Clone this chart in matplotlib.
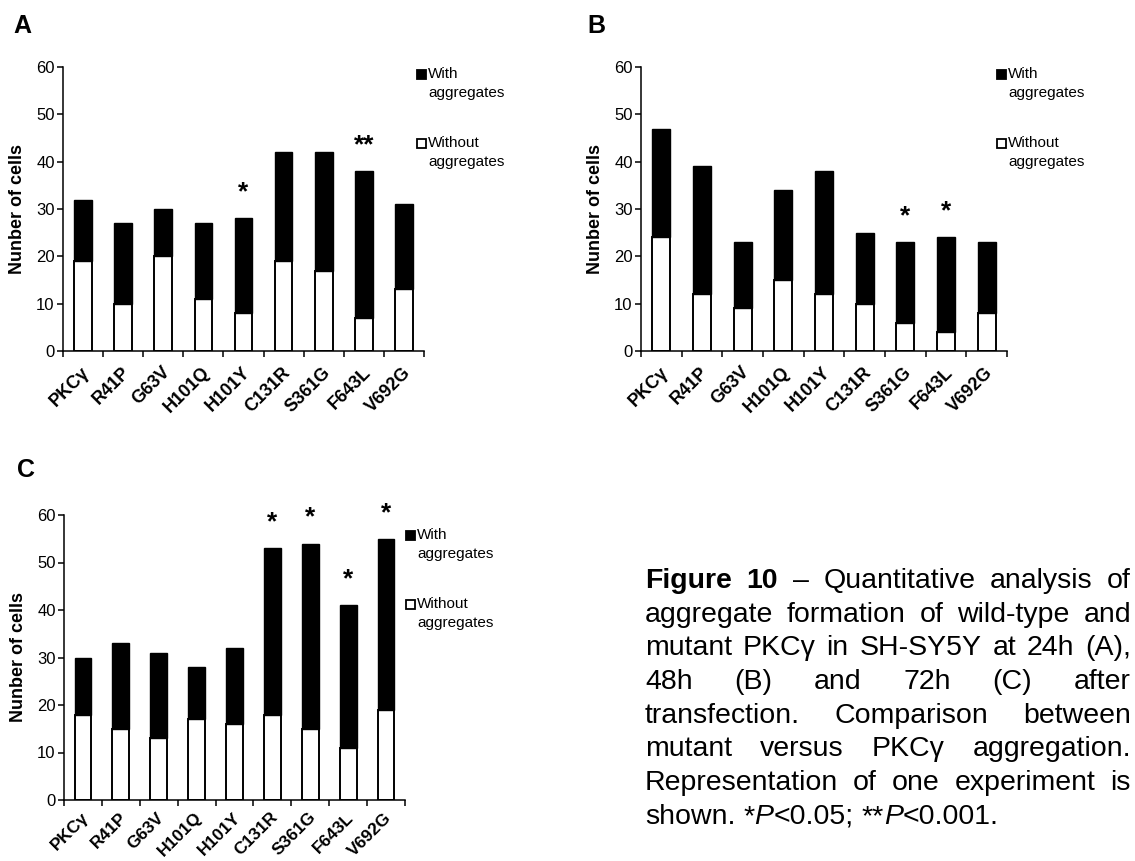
import numpy as np
import matplotlib
matplotlib.use("Agg")
import matplotlib.pyplot as plt
from matplotlib.patches import Rectangle
from matplotlib.transforms import ScaledTranslation

# ---------------- data ----------------
categories = ["PKCγ", "R41P", "G63V", "H101Q", "H101Y", "C131R", "S361G", "F643L", "V692G"]

a_without = [19, 10, 20, 11, 8, 19, 17, 7, 13]
a_with = [13, 17, 10, 16, 20, 23, 25, 31, 18]
a_sig = {"H101Y": "*", "F643L": "**"}

b_without = [24, 12, 9, 15, 12, 10, 6, 4, 8]
b_with = [23, 27, 14, 19, 26, 15, 17, 20, 15]
b_sig = {"S361G": "*", "F643L": "*"}

c_without = [18, 15, 13, 17, 16, 18, 15, 11, 19]
c_with = [12, 18, 18, 11, 16, 35, 39, 30, 36]
c_sig = {"C131R": "*", "S361G": "*", "F643L": "*", "V692G": "*"}

y_ticks = [0, 10, 20, 30, 40, 50, 60]
legend_labels = [("With", "aggregates"), ("Without", "aggregates")]
ylabel = "Nunber of cells"

# ---------------- figure ----------------
W, H = 1135, 861
plt.rcParams["font.family"] = ["Liberation Sans", "DejaVu Sans"]
fig = plt.figure(figsize=(W / 100, H / 100), dpi=100)
fig.patch.set_facecolor("white")


def fx(x):
    return x / W


def fy(y):
    return 1 - y / H


def panel(rect_px, without, with_, sig, label_x, letter, letter_pos, legend_pos, lab_dy, lab_fs):
    x0, ytop, x1, ybot = rect_px
    ax = fig.add_axes([fx(x0), fy(ybot), (x1 - x0) / W, (ybot - ytop) / H])
    x = np.arange(len(categories))
    totals = np.array(without) + np.array(with_)
    ax.bar(x, without, width=0.44, color="white", edgecolor="black", linewidth=1.4, zorder=2)
    ax.bar(x, with_, bottom=without, width=0.44, color="black", edgecolor="black", linewidth=1.0, zorder=2)
    ax.set_xlim(-0.5, len(categories) - 0.5)
    ax.set_ylim(0, 60)
    ax.set_yticks(y_ticks)
    ax.tick_params(axis="y", labelsize=12, length=4, width=1.1, direction="out", pad=2)
    ax.set_xticks(np.arange(-0.5, len(categories), 1.0))
    ax.set_xticklabels([])
    ax.tick_params(axis="x", which="major", length=4, width=1.1, direction="out")
    ax.set_xticks(x, minor=True)
    ax.set_xticklabels(categories, minor=True, rotation=45, ha="right", va="top",
                       rotation_mode="anchor", fontsize=lab_fs, fontweight="bold")
    ax.tick_params(axis="x", which="minor", length=0, pad=7)
    shift = ScaledTranslation(-0.02, -lab_dy / 100, fig.dpi_scale_trans)
    for lab in ax.get_xticklabels(minor=True):
        lab.set_transform(lab.get_transform() + shift)
    for s in ["top", "right"]:
        ax.spines[s].set_visible(False)
    for s in ["left", "bottom"]:
        ax.spines[s].set_linewidth(1.1)
    ax.set_ylabel(ylabel, fontsize=13, fontweight="bold")
    ax.yaxis.set_label_coords(label_x, 0.5)
    for i, c in enumerate(categories):
        if c in sig:
            ax.annotate(sig[c], xy=(i, totals[i]), xytext=(0, 13.5), textcoords="offset points",
                        ha="center", va="baseline", fontsize=19, fontweight="bold",
                        annotation_clip=False)
    # panel letter
    fig.text(fx(letter_pos[0]), fy(letter_pos[1]), letter, fontsize=18, fontweight="bold",
             ha="left", va="baseline")
    # legend (manual, two-line labels with marker on first line)
    lx, ly = legend_pos
    for k, (l1, l2) in enumerate(legend_labels):
        yy = ly + k * 69
        face = "black" if k == 0 else "white"
        fig.patches.append(Rectangle((fx(lx - 5), fy(yy + 5)), 9 / W, 9 / H, transform=fig.transFigure,
                                     facecolor=face, edgecolor="black", linewidth=1.3))
        fig.text(fx(lx + 6), fy(yy), l1, fontsize=11, ha="left", va="center")
        fig.text(fx(lx + 6), fy(yy + 19), l2, fontsize=11, ha="left", va="center")
    return ax


panel((63, 67, 424, 351), a_without, a_with, a_sig, -0.103, "A", (13, 33), (422, 74), 3, 13)
panel((641, 67, 1007, 351), b_without, b_with, b_sig, -0.101, "B", (587, 33), (1002, 74), 3, 13)
panel((64, 515, 405, 800), c_without, c_with, c_sig, -0.108, "C", (17, 477), (411, 535), 0, 12.5)

# ---------------- caption (justified) ----------------
caption_lines = [
    [[("Figure", "bold")], [("10", "bold")], [("–", "normal")], [("Quantitative", "normal")],
     [("analysis", "normal")], [("of", "normal")]],
    [[("aggregate", "normal")], [("formation", "normal")], [("of", "normal")],
     [("wild-type", "normal")], [("and", "normal")]],
    [[(w, "normal")] for w in "mutant PKCγ in SH-SY5Y at 24h (A),".split()],
    [[(w, "normal")] for w in "48h (B) and 72h (C) after".split()],
    [[(w, "normal")] for w in "transfection. Comparison between".split()],
    [[(w, "normal")] for w in "mutant versus PKCγ aggregation.".split()],
    [[(w, "normal")] for w in "Representation of one experiment is".split()],
    [[("shown.", "normal")], [("*", "normal"), ("P", "italic"), ("<0.05;", "normal")],
     [("**", "normal"), ("P", "italic"), ("<0.001.", "normal")]],
]
cap_fs = 20.5
cap_left, cap_right = 645, 1131
base0, lsp = 588, 33.7

fig.canvas.draw()
renderer = fig.canvas.get_renderer()


def seg_width(text, style):
    t = fig.text(0, 0, text, fontsize=cap_fs,
                 fontweight="bold" if style == "bold" else "normal",
                 fontstyle="italic" if style == "italic" else "normal")
    w = t.get_window_extent(renderer).width
    t.remove()
    return w


space_w = seg_width("a a", "normal") - seg_width("aa", "normal")

for li, words in enumerate(caption_lines):
    y = base0 + li * lsp
    widths = [[seg_width(t, s) for t, s in word] for word in words]
    word_w = [sum(w) for w in widths]
    last = li == len(caption_lines) - 1
    if last or len(words) == 1:
        gap = space_w
    else:
        gap = (cap_right - cap_left - sum(word_w)) / (len(words) - 1)
    xx = cap_left
    for word, ws in zip(words, widths):
        sx = xx
        for (t, s), w in zip(word, ws):
            fig.text(fx(sx), fy(y), t, fontsize=cap_fs,
                     fontweight="bold" if s == "bold" else "normal",
                     fontstyle="italic" if s == "italic" else "normal",
                     ha="left", va="baseline")
            sx += w
        xx += sum(ws) + gap

fig.savefig("out.png", dpi=100, facecolor="white")
